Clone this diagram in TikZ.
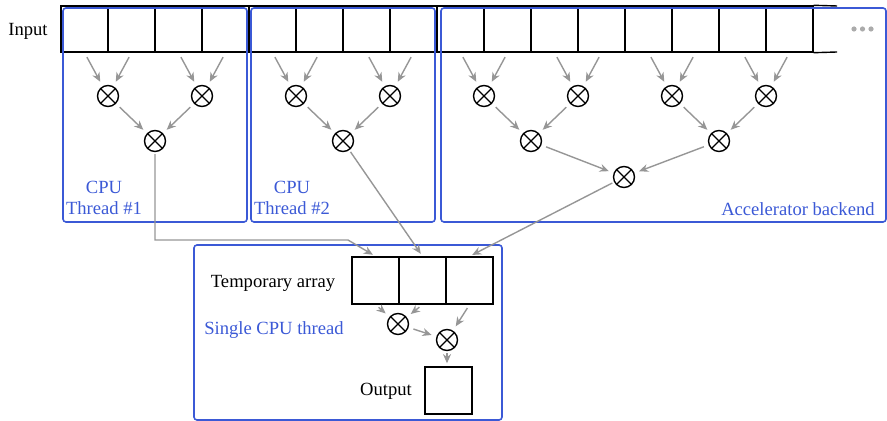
\documentclass[tikz,border=0pt]{standalone}
\usepackage{fontspec}
\setmainfont{Liberation Serif}
\usepackage{tikz}
\usetikzlibrary{arrows.meta}

\definecolor{groupblue}{RGB}{59,89,214}
\definecolor{flowgray}{RGB}{150,150,150}

\tikzset{
  >={Stealth[length=4.6pt,width=4pt]},
  cell/.style={draw, line width=0.7pt, minimum width=23.5pt, minimum height=23pt, inner sep=0pt},
  mult/.style={draw, circle, line width=0.7pt, minimum size=10.5pt, inner sep=0pt,
    path picture={\draw[line width=0.6pt] (path picture bounding box.north west) -- (path picture bounding box.south east)
      (path picture bounding box.north east) -- (path picture bounding box.south west);}},
  flow/.style={->, draw=flowgray, line width=0.7pt, shorten <=2.5pt, shorten >=2.5pt},
  group/.style={draw=groupblue, line width=0.8pt, rounded corners=1.5pt},
  grouptext/.style={text=groupblue, align=center, inner sep=0pt},
  plaintext/.style={inner sep=0pt}
}

\begin{document}
\begin{tikzpicture}[x=0.5pt, y=-0.5pt, font=\fontsize{9.3}{10.5}\selectfont]
  \useasboundingbox (0,0) rectangle (887,421);

  % input array
  \foreach \i in {0,...,15}
    \node[cell] (I\i) at ({84.5+47*\i}, 29) {};
  \coordinate (openT) at (837,6);
  \coordinate (openB) at (837,52);
  \draw[line width=0.7pt] (I15.north east) -- (openT);
  \draw[line width=0.7pt] (I15.south east) -- (openB);
  \node[plaintext] (input) at (28,31) {Input};
  \foreach \x in {854,862.5,871}
    \fill[flowgray!80] (\x,29) circle (1.3pt);

  % first level
  \foreach \j in {1,...,8}
    \node[mult] (A\j) at ({108+94*(\j-1)}, 96) {};
  % second level
  \node[mult] (B1) at (155,141) {};
  \node[mult] (B2) at (343,141) {};
  \node[mult] (B3) at (531,141) {};
  \node[mult] (B4) at (719,141) {};
  % third level
  \node[mult] (C1) at (624,177) {};

  \foreach \j/\a/\b in {1/0/1, 2/2/3, 3/4/5, 4/6/7, 5/8/9, 6/10/11, 7/12/13, 8/14/15} {
    \draw[flow] (I\a.south) -- (A\j);
    \draw[flow] (I\b.south) -- (A\j);
  }
  \draw[flow] (A1) -- (B1);
  \draw[flow] (A2) -- (B1);
  \draw[flow] (A3) -- (B2);
  \draw[flow] (A4) -- (B2);
  \draw[flow] (A5) -- (B3);
  \draw[flow] (A6) -- (B3);
  \draw[flow] (A7) -- (B4);
  \draw[flow] (A8) -- (B4);
  \draw[flow] (B3) -- (C1);
  \draw[flow] (B4) -- (C1);

  % group boxes
  \draw[group] (63,8) rectangle (247,222);
  \draw[group] (251,8) rectangle (435,222);
  \draw[group] (441,8) rectangle (886,222);
  \draw[group] (194,245) rectangle (502,420);

  \node[grouptext] (cpu1) at (104,198) {CPU\\Thread \#1};
  \node[grouptext] (cpu2) at (292,198) {CPU\\Thread \#2};
  \node[grouptext, anchor=east] (accel) at (875,209) {Accelerator backend};
  \node[grouptext] (single) at (274,330) {Single CPU thread};

  % temporary array and output
  \node[cell, minimum height=23.5pt] (T1) at (375.5,280.5) {};
  \node[cell, minimum height=23.5pt] (T2) at (422.5,280.5) {};
  \node[cell, minimum height=23.5pt] (T3) at (469.5,280.5) {};
  \node[plaintext] (temp) at (273,283) {Temporary array};

  \node[mult] (D1) at (398,324) {};
  \node[mult] (D2) at (447,340) {};

  \node[cell, minimum height=23.5pt] (out) at (448.5,390.5) {};
  \node[plaintext] (outtext) at (386,391) {Output};

  \coordinate (turn1) at (348,240);
  \draw[flow, shorten <=1pt, shorten >=1.5pt] (B1) |- (turn1) -- (T1.north);
  \draw[flow, shorten <=1pt, shorten >=1.5pt] (B2) -- (T2.north);
  \draw[flow, shorten <=1pt, shorten >=1.5pt] (C1) -- (T3.north);

  \draw[flow, shorten <=2pt] (T1.south) -- (D1);
  \draw[flow, shorten <=2pt] (T2.south) -- (D1);
  \draw[flow, shorten <=2pt] (T3.south) -- (D2);
  \draw[flow] (D1) -- (D2);
  \draw[flow, shorten <=1pt, shorten >=1.5pt] (D2) -- (D2 |- out.north);
\end{tikzpicture}
\end{document}
